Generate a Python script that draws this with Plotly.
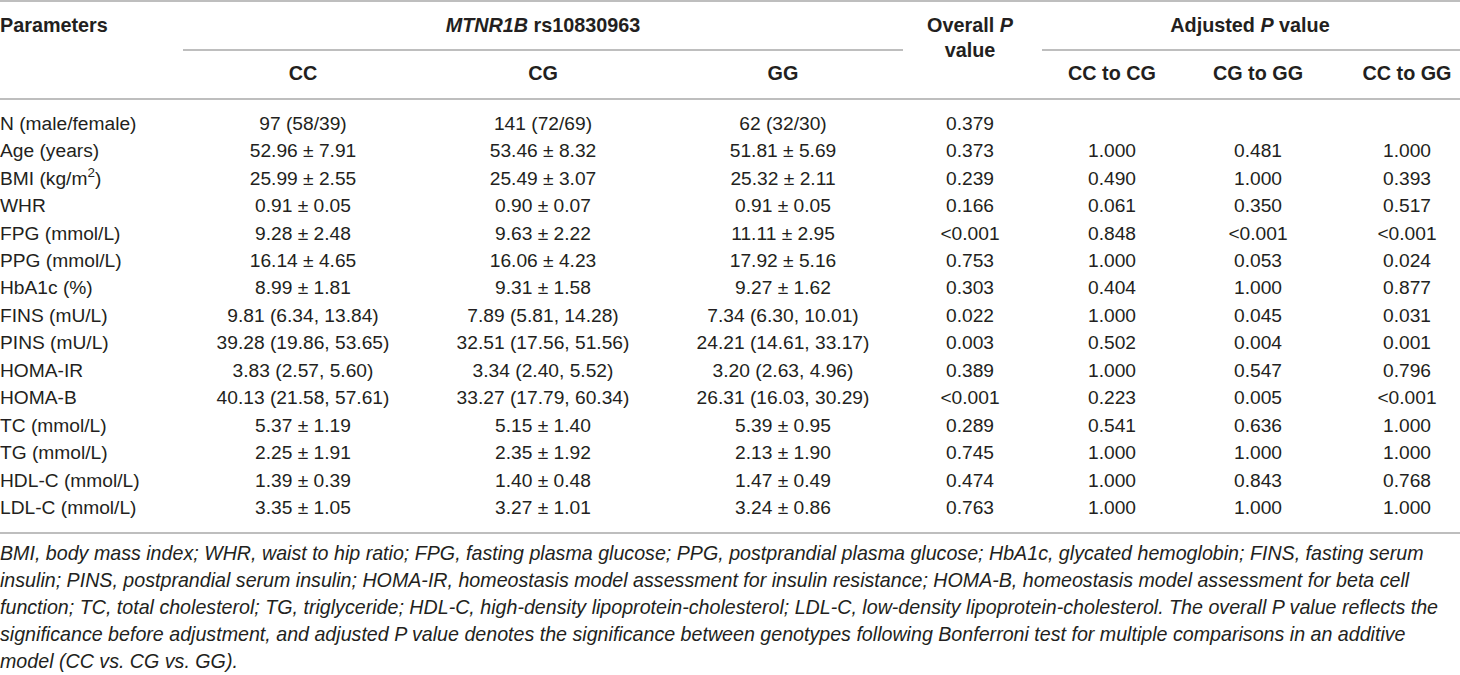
import plotly.graph_objects as go

# ---------------- data ----------------
parameters = ["N (male/female)", "Age (years)", "BMI (kg/m<sup>2</sup>)", "WHR", "FPG (mmol/L)",
              "PPG (mmol/L)", "HbA1c (%)", "FINS (mU/L)", "PINS (mU/L)", "HOMA-IR", "HOMA-B",
              "TC (mmol/L)", "TG (mmol/L)", "HDL-C (mmol/L)", "LDL-C (mmol/L)"]
cc = ["97 (58/39)", "52.96 ± 7.91", "25.99 ± 2.55", "0.91 ± 0.05", "9.28 ± 2.48", "16.14 ± 4.65",
      "8.99 ± 1.81", "9.81 (6.34, 13.84)", "39.28 (19.86, 53.65)", "3.83 (2.57, 5.60)",
      "40.13 (21.58, 57.61)", "5.37 ± 1.19", "2.25 ± 1.91", "1.39 ± 0.39", "3.35 ± 1.05"]
cg = ["141 (72/69)", "53.46 ± 8.32", "25.49 ± 3.07", "0.90 ± 0.07", "9.63 ± 2.22", "16.06 ± 4.23",
      "9.31 ± 1.58", "7.89 (5.81, 14.28)", "32.51 (17.56, 51.56)", "3.34 (2.40, 5.52)",
      "33.27 (17.79, 60.34)", "5.15 ± 1.40", "2.35 ± 1.92", "1.40 ± 0.48", "3.27 ± 1.01"]
gg = ["62 (32/30)", "51.81 ± 5.69", "25.32 ± 2.11", "0.91 ± 0.05", "11.11 ± 2.95", "17.92 ± 5.16",
      "9.27 ± 1.62", "7.34 (6.30, 10.01)", "24.21 (14.61, 33.17)", "3.20 (2.63, 4.96)",
      "26.31 (16.03, 30.29)", "5.39 ± 0.95", "2.13 ± 1.90", "1.47 ± 0.49", "3.24 ± 0.86"]
overall_p = ["0.379", "0.373", "0.239", "0.166", "<0.001", "0.753", "0.303", "0.022", "0.003",
             "0.389", "<0.001", "0.289", "0.745", "0.474", "0.763"]
cc_to_cg = ["", "1.000", "0.490", "0.061", "0.848", "1.000", "0.404", "1.000", "0.502", "1.000",
            "0.223", "0.541", "1.000", "1.000", "1.000"]
cg_to_gg = ["", "0.481", "1.000", "0.350", "<0.001", "0.053", "1.000", "0.045", "0.004", "0.547",
            "0.005", "0.636", "1.000", "0.843", "1.000"]
cc_to_gg = ["", "1.000", "0.393", "0.517", "<0.001", "0.024", "0.877", "0.031", "0.001", "0.796",
            "<0.001", "1.000", "1.000", "0.768", "1.000"]

header_top = ["<b>Parameters</b>", "<b><i>MTNR1B</i> rs10830963</b>", "<b>Overall <i>P</i></b>",
              "<b>Adjusted <i>P</i> value</b>"]
header_sub = ["<b>CC</b>", "<b>CG</b>", "<b>GG</b>", "<b>value</b>",
              "<b>CC to CG</b>", "<b>CG to GG</b>", "<b>CC to GG</b>"]
footnote = [
    "BMI, body mass index; WHR, waist to hip ratio; FPG, fasting plasma glucose; PPG, postprandial plasma glucose; HbA1c, glycated hemoglobin; FINS, fasting serum",
    "insulin; PINS, postprandial serum insulin; HOMA-IR, homeostasis model assessment for insulin resistance; HOMA-B, homeostasis model assessment for beta cell",
    "function; TC, total cholesterol; TG, triglyceride; HDL-C, high-density lipoprotein-cholesterol; LDL-C, low-density lipoprotein-cholesterol. The overall P value reflects the",
    "significance before adjustment, and adjusted P value denotes the significance between genotypes following Bonferroni test for multiple comparisons in an additive",
    "model (CC vs. CG vs. GG).",
]

# ---------------- layout constants ----------------
W, H = 1460, 675
FONT = "Liberation Sans, Arial, Helvetica, sans-serif"
FS_BODY = 19.2
FS_HEAD = 19.8
FS_FOOT = 19.65
TXT = "#231f20"
LINE = "#a8a8a8"
X_LEFT = 0
X_CC, X_CG, X_GG = 303, 543, 783
X_OV = 970
X_A1, X_A2, X_A3 = 1112, 1258, 1407
X_ADJ = 1250
Y_H1, Y_H2 = 27, 75
Y_OV2 = 52
ROW0, ROWSTEP = 125, 27.45
FOOT0, FOOTSTEP = 555, 27.1

rows_y = [ROW0 + ROWSTEP * i for i in range(len(parameters))]

fig = go.Figure()


def text_col(xpos, ys, texts, pos="middle center", size=FS_BODY, italic=False):
    pairs = [(yv, t) for yv, t in zip(ys, texts) if t]
    fig.add_trace(go.Scatter(
        x=[xpos] * len(pairs), y=[p[0] for p in pairs], text=[p[1] for p in pairs],
        mode="text", textposition=pos, hoverinfo="skip", showlegend=False,
        textfont=dict(family=FONT, size=size, color=TXT,
                      style="italic" if italic else "normal"),
    ))


# headers
text_col(X_LEFT, [Y_H1], [header_top[0]], "middle right", FS_HEAD)
text_col(X_CG, [Y_H1], [header_top[1]], size=FS_HEAD)
text_col(X_OV, [Y_H1], [header_top[2]], size=FS_HEAD)
text_col(X_ADJ, [Y_H1], [header_top[3]], size=FS_HEAD)
for xpos, yv, t in zip([X_CC, X_CG, X_GG, X_OV, X_A1, X_A2, X_A3],
                       [Y_H2, Y_H2, Y_H2, Y_OV2, Y_H2, Y_H2, Y_H2], header_sub):
    text_col(xpos, [yv], [t], size=FS_HEAD)

# body
text_col(X_LEFT, rows_y, parameters, "middle right")
text_col(X_CC, rows_y, cc)
text_col(X_CG, rows_y, cg)
text_col(X_GG, rows_y, gg)
text_col(X_OV, rows_y, overall_p)
text_col(X_A1, rows_y, cc_to_cg)
text_col(X_A2, rows_y, cg_to_gg)
text_col(X_A3, rows_y, cc_to_gg)

# footnote
foot_y = [FOOT0 + FOOTSTEP * i for i in range(len(footnote))]
text_col(X_LEFT, foot_y, footnote, "middle right", FS_FOOT, italic=True)

# rules
rules = [(0, W, 1), (183, 903, 50), (1042, W, 50), (0, W, 99), (0, W, 533)]
for x0, x1, yv in rules:
    fig.add_shape(type="line", x0=x0, x1=x1, y0=yv, y1=yv, xref="x", yref="y",
                  line=dict(color=LINE, width=1.6))

fig.update_layout(
    width=W, height=H, margin=dict(l=0, r=0, t=0, b=0),
    paper_bgcolor="white", plot_bgcolor="white",
    xaxis=dict(range=[0, W], visible=False, fixedrange=True),
    yaxis=dict(range=[H, 0], visible=False, fixedrange=True),
    hovermode=False,
)

fig.write_html("out.html", config={"displayModeBar": False},
               post_script="document.body.style.margin='0px';document.body.style.overflow='hidden';")
